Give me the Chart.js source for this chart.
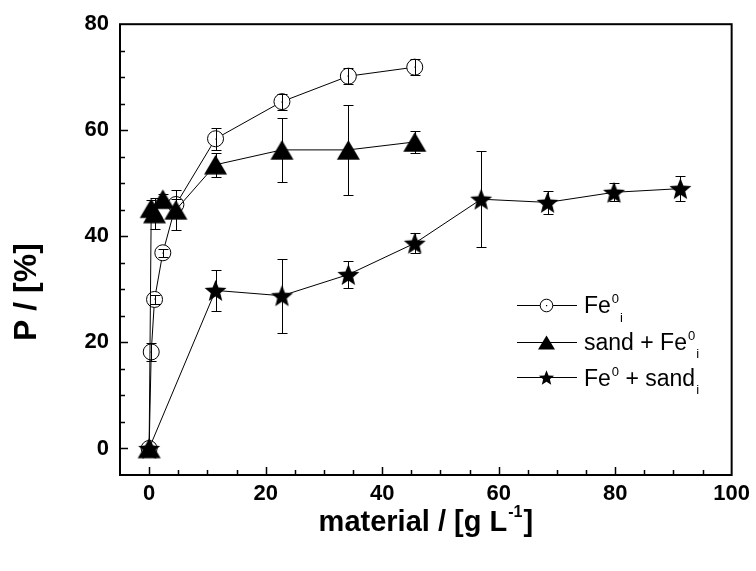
<!DOCTYPE html>
<html><head><meta charset="utf-8">
<script src="https://cdn.jsdelivr.net/npm/chart.js@4.4.1/dist/chart.umd.min.js"></script>
<style>html,body{margin:0;padding:0;background:#fff}canvas{display:block}</style>
</head><body>
<canvas id="c" width="756" height="571"></canvas>
<script>
// ---- data ----
const xTickLabels = [0, 20, 40, 60, 80, 100];
const yTickLabels = [0, 20, 40, 60, 80];

const feX   = [0, 0.36, 0.93, 2.35, 4.6, 11.4, 22.8, 34.2, 45.6];
const feY   = [0, 18.2, 28.1, 36.9, 46.0, 58.4, 65.4, 70.2, 71.9];
const feErr = [0, 1.7, 0.8, 0.8, 1.0, 2.1, 1.5, 1.5, 1.5];

const sandFeX   = [0, 0.36, 0.93, 2.35, 4.6, 11.4, 22.8, 34.2, 45.6];
const sandFeY   = [0, 45.3, 44.3, 47.0, 45.0, 53.5, 56.3, 56.3, 57.8];
const sandFeErr = [0, 1.5, 3.0, 1.0, 3.8, 2.3, 6.1, 8.5, 2.0];

const feSandX   = [0, 11.4, 22.8, 34.2, 45.6, 57.0, 68.4, 79.8, 91.2];
const feSandY   = [0, 29.8, 28.8, 32.8, 38.7, 47.0, 46.4, 48.3, 49.0];
const feSandErr = [0, 3.8, 7.0, 2.6, 1.9, 9.1, 2.2, 1.7, 2.4];

const legendRows = [
  [{t:'Fe'},{t:'0',sup:true},{t:'i',sub:true}],
  [{t:'sand + Fe'},{t:'0',sup:true},{t:'i',sub:true}],
  [{t:'Fe'},{t:'0',sup:true},{t:' + sand'},{t:'i',sub:true}]
];
const xTitle = [{t:'material / [g L'},{t:'-1',sup:true},{t:']'}];
const yTitle = 'P / [%]';

// ---- marker images ----
function triPath(g,cx,cy,w,h){g.beginPath();g.moveTo(cx,cy-h/2);g.lineTo(cx+w/2,cy+h/2);g.lineTo(cx-w/2,cy+h/2);g.closePath();}
function starPath(g,cx,cy,R,ri){
  const off = R*(1-Math.cos(Math.PI/5))/2;
  g.beginPath();
  for(let k=0;k<10;k++){const a=-Math.PI/2+k*Math.PI/5;const rr=k%2?ri:R;
    const px=cx+rr*Math.cos(a),py=cy+off+rr*Math.sin(a);k?g.lineTo(px,py):g.moveTo(px,py);}
  g.closePath();
}
function triImg(w,h){const c=document.createElement('canvas');c.width=Math.ceil(w)+2;c.height=Math.ceil(h)+2;
  const g=c.getContext('2d');triPath(g,c.width/2,c.height/2,w,h);g.fillStyle='#000';g.fill();return c;}
function starImg(R,ri){const s=Math.ceil(2*R)+2;const c=document.createElement('canvas');c.width=c.height=s;
  const g=c.getContext('2d');starPath(g,s/2,s/2,R,ri);g.fillStyle='#000';g.fill();return c;}
const TRI = triImg(23,19.5);
const STAR = starImg(11.5,5.0);

const pts = (xs,ys)=>xs.map((x,i)=>({x:x,y:ys[i]}));

const FONT = '"Liberation Sans", Arial, sans-serif';

function drawRich(g, parts, x, y, size){
  let cx = x;
  for(const p of parts){
    if(p.sup){ g.font = `${Math.round(size*0.55)}px ${FONT}`; g.fillText(p.t,cx+1,y-size*0.43); cx += g.measureText(p.t).width+1; }
    else if(p.sub){ g.font = `${Math.round(size*0.55)}px ${FONT}`; g.fillText(p.t,cx+1,y+size*0.36); cx += g.measureText(p.t).width+1; }
    else { g.font = `${size}px ${FONT}`; g.fillText(p.t,cx,y); cx += g.measureText(p.t).width; }
  }
  return cx - x;
}

const decor = {
  id:'decor',
  afterDatasetsDraw(chart){
    const g = chart.ctx, xs = chart.scales.x, ys = chart.scales.y;
    const sets = [[feX,feY,feErr],[sandFeX,sandFeY,sandFeErr],[feSandX,feSandY,feSandErr]];
    g.save(); g.strokeStyle='#000'; g.lineWidth=1;
    for(const [X,Y,E] of sets){
      for(let i=0;i<X.length;i++){ if(!E[i]) continue;
        const px = Math.round(xs.getPixelForValue(X[i]))+0.5;
        const y1 = Math.round(ys.getPixelForValue(Y[i]+E[i]))+0.5;
        const y2 = Math.round(ys.getPixelForValue(Y[i]-E[i]))+0.5;
        g.beginPath(); g.moveTo(px,y1); g.lineTo(px,y2);
        g.moveTo(px-5,y1); g.lineTo(px+5,y1); g.moveTo(px-5,y2); g.lineTo(px+5,y2); g.stroke();
      }
    }
    const m = chart.getDatasetMeta(0);
    g.fillStyle='#000';
    for(const el of m.data){ g.fillRect(Math.round(el.x)-0.5, Math.round(el.y)-0.5, 1.2, 1.2); }
    g.restore();
  },
  afterDraw(chart){
    const g = chart.ctx, a = chart.chartArea, xs = chart.scales.x, ys = chart.scales.y;
    g.save();
    g.strokeStyle='#000'; g.lineWidth=2;
    g.strokeRect(a.left, a.top, a.right-a.left, a.bottom-a.top);
    g.lineWidth=1.5; g.beginPath();
    for(let v=-5; v<=80; v+=5){ const py=Math.round(ys.getPixelForValue(v))+0.5; const L = yTickLabels.includes(v)?8:5;
      if(v>-5 && v<80){ g.moveTo(a.left,py); g.lineTo(a.left+L,py);} }
    for(let v=-5; v<=100; v+=5){ const px=Math.round(xs.getPixelForValue(v))+0.5; const L = xTickLabels.includes(v)?8:5;
      if(v>-5 && v<100){ g.moveTo(px,a.bottom); g.lineTo(px,a.bottom-L);} }
    g.stroke();
    g.fillStyle='#000'; g.textBaseline='alphabetic';
    {g.font=`bold 29px ${FONT}`; const w1=g.measureText(xTitle[0].t).width; g.font=`bold 16px ${FONT}`; const w2=g.measureText(xTitle[1].t).width; g.font=`bold 29px ${FONT}`; const w3=g.measureText(xTitle[2].t).width; const w=w1+w2+w3+2;
      let x0 = (a.left+a.right)/2 - w/2, yb = 531;
      g.textAlign='left'; g.fillText(xTitle[0].t,x0,yb); x0+=w1+1;
      g.font=`bold 16px ${FONT}`; g.fillText(xTitle[1].t,x0,yb-14); x0+=w2+1;
      g.font=`bold 29px ${FONT}`; g.fillText(xTitle[2].t,x0,yb);}
    g.save(); g.translate(27,292); g.rotate(-Math.PI/2); g.textAlign='center'; g.textBaseline='middle';
    g.font=`bold 32px ${FONT}`; g.fillText(yTitle,0,0); g.restore();
    const rowsY=[305,341.5,377.3]; g.textAlign='left'; g.textBaseline='alphabetic'; g.lineWidth=1;
    rowsY.forEach((ry,i)=>{
      g.beginPath(); g.moveTo(517,Math.round(ry)+0.5); g.lineTo(577,Math.round(ry)+0.5); g.strokeStyle='#000'; g.stroke();
      const mx=546.5, my=Math.round(ry)+0.5;
      if(i===0){ g.beginPath(); g.arc(mx,my,6.3,0,2*Math.PI); g.fillStyle='#fff'; g.fill(); g.stroke(); g.fillStyle='#000'; g.fillRect(mx-0.5,my-0.5,1.2,1.2);}
      else if(i===1){ triPath(g,mx,my,17,14); g.fillStyle='#000'; g.fill(); }
      else { starPath(g,mx,my,8,3.5); g.fillStyle='#000'; g.fill(); }
      g.fillStyle='#000';
      drawRich(g, legendRows[i], 584, ry+8.3, 23);
    });
    g.restore();
  }
};

const common = {showLine:true, borderColor:'#000', borderWidth:1, tension:0, fill:false};
new Chart(document.getElementById('c'), {
  type:'scatter',
  data:{datasets:[
    Object.assign({label:'Fe0 i', data:pts(feX,feY), pointStyle:'circle', pointRadius:8, pointBackgroundColor:'#fff', pointBorderColor:'#000', pointBorderWidth:1, order:3}, common),
    Object.assign({label:'sand + Fe0 i', data:pts(sandFeX,sandFeY), pointStyle:TRI, pointRadius:12, order:2}, common),
    Object.assign({label:'Fe0 + sand i', data:pts(feSandX,feSandY), pointStyle:STAR, pointRadius:12, order:1}, common)
  ]},
  options:{
    responsive:false, animation:false, devicePixelRatio:1,
    layout:{padding:{left:0,right:24,top:20,bottom:0}},
    plugins:{legend:{display:false}, tooltip:{enabled:false}},
    scales:{
      x:{type:'linear', min:-5, max:100,
        afterBuildTicks:s=>{s.ticks = xTickLabels.map(v=>({value:v}));},
        afterFit:s=>{s.height=96;},
        grid:{display:false, drawTicks:false}, border:{display:false},
        ticks:{color:'#000', padding:6, maxRotation:0, font:{family:FONT, size:22, weight:'bold'}}},
      y:{type:'linear', min:-5, max:80,
        afterBuildTicks:s=>{s.ticks = yTickLabels.map(v=>({value:v}));},
        afterFit:s=>{s.width=120;},
        grid:{display:false, drawTicks:false}, border:{display:false},
        ticks:{color:'#000', padding:11, font:{family:FONT, size:22, weight:'bold'}}}
    }
  },
  plugins:[decor]
});
</script>
</body></html>
